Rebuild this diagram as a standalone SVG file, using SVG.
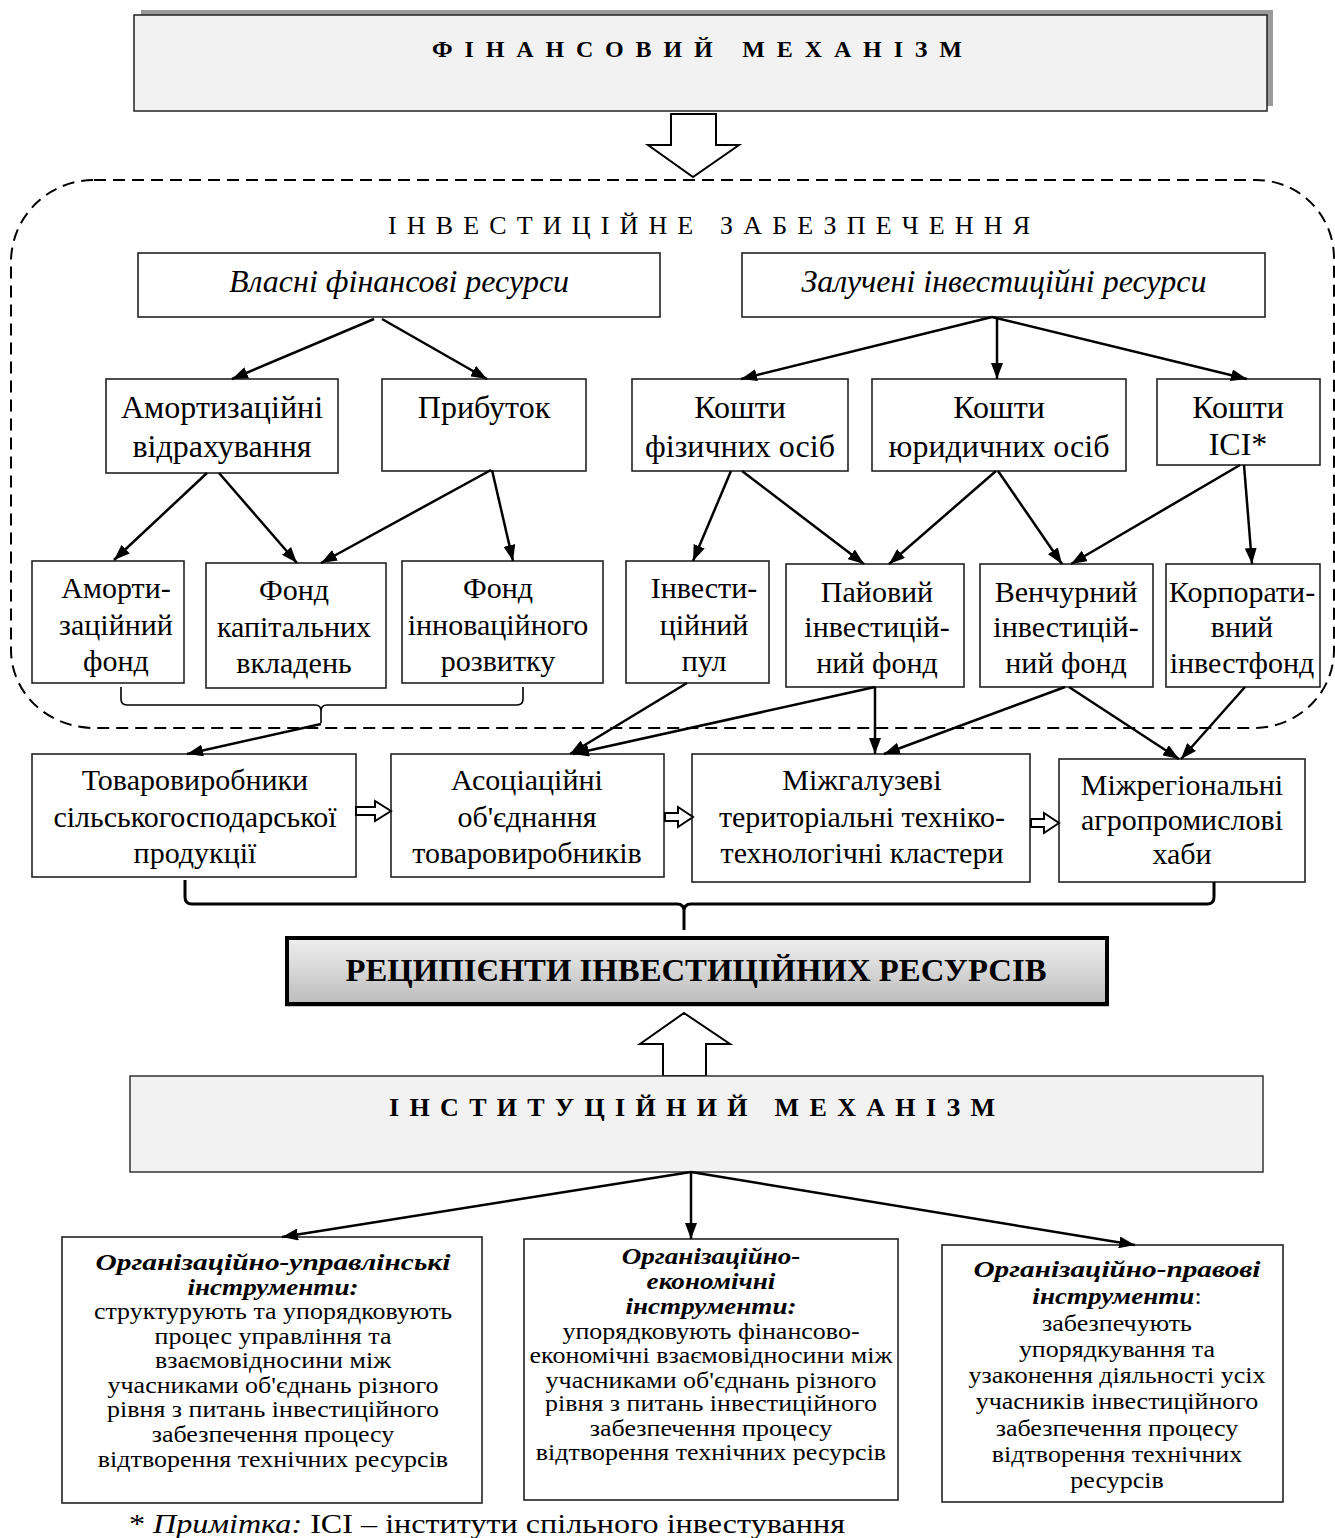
<svg xmlns="http://www.w3.org/2000/svg" width="1335" height="1538" viewBox="0 0 1335 1538">
<defs>
<marker id="ah" markerUnits="userSpaceOnUse" markerWidth="16" markerHeight="12" refX="16" refY="6" orient="auto">
<path d="M0,0 L16,6 L0,12 Z" fill="#000"/>
</marker>
<linearGradient id="grad" x1="0" y1="0" x2="0" y2="1">
<stop offset="0" stop-color="#efefef"/>
<stop offset="1" stop-color="#bcbcbc"/>
</linearGradient>
<style>
.box{fill:#fff;stroke:#222;stroke-width:1.6}
.t{font-family:"Liberation Serif","Times New Roman",serif;text-anchor:middle;fill:#000}
.f32{font-size:32px}
.f30{font-size:30px}
.s{font-size:23px}
.h{font-size:24px}
.i{font-style:italic}
.b{font-weight:bold}
.c{stroke:#000;stroke-width:2.5;fill:none;marker-end:url(#ah)}
.hollow{fill:#fff;stroke:#000;stroke-width:2}
.brace{fill:none;stroke:#000}
</style>
</defs>
<rect width="1335" height="1538" fill="#fff"/>

<g id="financial-mechanism">
<rect x="141" y="10" width="1132" height="96" fill="#9a9a9a"/>
<rect x="134" y="15" width="1133" height="96" fill="#f2f2f2" stroke="#222" stroke-width="1.5"/>
<text class="t b" x="697" y="57" style="font-size:24px" textLength="530" lengthAdjust="spacing">ФІНАНСОВИЙ МЕХАНІЗМ</text>
</g>

<g id="arrow-down">
<polygon class="hollow" points="671,114 716,114 716,145 739,145 693,177 648,145 671,145"/>
</g>

<g id="investment-support">
<path d="M94,180 H1256 A78,78 0 0 1 1334,258 V650 A80,78 0 0 1 1254,728 H94 A83,78 0 0 1 11,650 V262 A83,82 0 0 1 94,180 Z" fill="none" stroke="#000" stroke-width="2" stroke-dasharray="12 7"/>
<text class="t" x="709" y="234" style="font-size:26px" textLength="642" lengthAdjust="spacing">ІНВЕСТИЦІЙНЕ ЗАБЕЗПЕЧЕННЯ</text>
</g>

<g id="own-resources">
<rect class="box" x="138" y="253" width="522" height="64"/>
<text class="t f32 i" x="399" y="292">Власні фінансові ресурси</text>
</g>
<g id="attracted-resources">
<rect class="box" x="742" y="253" width="523" height="64"/>
<text class="t f32 i" x="1004" y="292">Залучені інвестиційні ресурси</text>
</g>

<g id="depreciation">
<rect class="box" x="106" y="379" width="232" height="94"/>
<text class="t f32" x="222" y="418">Амортизаційні<tspan x="222" dy="39">відрахування</tspan></text>
</g>
<g id="profit">
<rect class="box" x="382" y="379" width="204" height="92"/>
<text class="t f32" x="484" y="418">Прибуток</text>
</g>
<g id="individuals">
<rect class="box" x="632" y="379" width="216" height="92"/>
<text class="t f32" x="740" y="418">Кошти<tspan x="740" dy="39">фізичних осіб</tspan></text>
</g>
<g id="legal-entities">
<rect class="box" x="872" y="379" width="254" height="92"/>
<text class="t f32" x="999" y="418">Кошти<tspan x="999" dy="39">юридичних осіб</tspan></text>
</g>
<g id="ici">
<rect class="box" x="1157" y="379" width="163" height="86"/>
<text class="t f32" x="1238" y="418">Кошти<tspan x="1238" dy="37">ІСІ*</tspan></text>
</g>

<g id="depreciation-fund">
<rect class="box" x="32" y="561" width="152" height="122"/>
<text class="t f30" x="116" y="598">Аморти-<tspan x="116" dy="37">заційний</tspan><tspan x="116" dy="36">фонд</tspan></text>
</g>
<g id="capital-fund">
<rect class="box" x="206" y="563" width="180" height="125"/>
<text class="t f30" x="294" y="600">Фонд<tspan x="294" dy="37">капітальних</tspan><tspan x="294" dy="36">вкладень</tspan></text>
</g>
<g id="innovation-fund">
<rect class="box" x="402" y="561" width="201" height="122"/>
<text class="t f30" x="498" y="598">Фонд<tspan x="498" dy="37">інноваційного</tspan><tspan x="498" dy="36">розвитку</tspan></text>
</g>
<g id="investment-pool">
<rect class="box" x="626" y="561" width="143" height="122"/>
<text class="t f30" x="704" y="598">Інвести-<tspan x="704" dy="37">ційний</tspan><tspan x="704" dy="36">пул</tspan></text>
</g>
<g id="mutual-fund">
<rect class="box" x="786" y="564" width="178" height="123"/>
<text class="t f30" x="877" y="602">Пайовий<tspan x="877" dy="35">інвестицій-</tspan><tspan x="877" dy="36">ний фонд</tspan></text>
</g>
<g id="venture-fund">
<rect class="box" x="980" y="564" width="173" height="123"/>
<text class="t f30" x="1066" y="602">Венчурний<tspan x="1066" dy="35">інвестицій-</tspan><tspan x="1066" dy="36">ний фонд</tspan></text>
</g>
<g id="corporate-fund">
<rect class="box" x="1166" y="564" width="154" height="123"/>
<text class="t f30" x="1242" y="602">Корпорати-<tspan x="1242" dy="35">вний</tspan><tspan x="1242" dy="36">інвестфонд</tspan></text>
</g>

<g id="producers">
<rect class="box" x="32" y="754" width="324" height="123"/>
<text class="t f30" x="195" y="790">Товаровиробники<tspan x="195" dy="37">сільськогосподарської</tspan><tspan x="195" dy="36">продукції</tspan></text>
</g>
<g id="associations">
<rect class="box" x="391" y="754" width="273" height="123"/>
<text class="t f30" x="527" y="790">Асоціаційні<tspan x="527" dy="37">об'єднання</tspan><tspan x="527" dy="36">товаровиробників</tspan></text>
</g>
<g id="clusters">
<rect class="box" x="692" y="754" width="338" height="128"/>
<text class="t f30" x="862" y="790">Міжгалузеві<tspan x="862" dy="37">територіальні техніко-</tspan><tspan x="862" dy="36">технологічні кластери</tspan></text>
</g>
<g id="hubs">
<rect class="box" x="1059" y="759" width="246" height="123"/>
<text class="t f30" x="1182" y="795">Міжрегіональні<tspan x="1182" dy="35">агропромислові</tspan><tspan x="1182" dy="34">хаби</tspan></text>
</g>

<g id="recipients">
<rect x="285" y="941" width="824" height="66" fill="#c8c8c8"/>
<rect x="287" y="938" width="820" height="66" fill="url(#grad)" stroke="#000" stroke-width="4"/>
<text class="t b" x="696" y="981" style="font-size:31px" textLength="701" lengthAdjust="spacingAndGlyphs">РЕЦИПІЄНТИ  ІНВЕСТИЦІЙНИХ  РЕСУРСІВ</text>
</g>

<g id="arrow-up">
<polygon class="hollow" points="684,1013 730,1044 706,1044 706,1076 663,1076 663,1044 640,1044"/>
</g>

<g id="institutional-mechanism">
<rect x="130" y="1076" width="1133" height="96" fill="#f2f2f2" stroke="#333" stroke-width="1.5"/>
<text class="t b" x="692" y="1116" style="font-size:26px" textLength="606" lengthAdjust="spacing">ІНСТИТУЦІЙНИЙ МЕХАНІЗМ</text>
</g>

<g id="org-management">
<rect class="box" x="62" y="1237" width="420" height="266"/>
<g transform="matrix(1.13,0,0,1,-35.49,0)">
<text class="t s" x="273" y="1270"><tspan class="h b i" textLength="314" lengthAdjust="spacingAndGlyphs">Організаційно-управлінські</tspan><tspan class="h b i" x="273" dy="25">інструменти:</tspan><tspan x="273" dy="24">структурують та упорядковують</tspan><tspan x="273" dy="25">процес управління та</tspan><tspan x="273" dy="24">взаємовідносини між</tspan><tspan x="273" dy="25">учасниками об'єднань різного</tspan><tspan x="273" dy="24">рівня з питань інвестиційного</tspan><tspan x="273" dy="25">забезпечення процесу</tspan><tspan x="273" dy="25">відтворення технічних ресурсів</tspan></text>
</g>
</g>
<g id="org-economic">
<rect class="box" x="524" y="1239" width="374" height="261"/>
<g transform="matrix(1.13,0,0,1,-92.43,0)">
<text class="t s" x="711" y="1264"><tspan class="h b i">Організаційно-</tspan><tspan class="h b i" x="711" dy="25">економічні</tspan><tspan class="h b i" x="711" dy="25">інструменти:</tspan><tspan x="711" dy="25">упорядковують фінансово-</tspan><tspan x="711" dy="24">економічні взаємовідносини між</tspan><tspan x="711" dy="25">учасниками об'єднань різного</tspan><tspan x="711" dy="23">рівня з питань інвестиційного</tspan><tspan x="711" dy="25">забезпечення процесу</tspan><tspan x="711" dy="24">відтворення технічних ресурсів</tspan></text>
</g>
</g>
<g id="org-legal">
<rect class="box" x="942" y="1245" width="341" height="257"/>
<g transform="matrix(1.13,0,0,1,-145.21,0)">
<text class="t s" x="1117" y="1277"><tspan class="h b i" textLength="254" lengthAdjust="spacingAndGlyphs">Організаційно-правові</tspan><tspan x="1117" dy="27"><tspan class="h b i">інструменти</tspan>:</tspan><tspan x="1117" dy="27">забезпечують</tspan><tspan x="1117" dy="26">упорядкування та</tspan><tspan x="1117" dy="26">узаконення діяльності усіх</tspan><tspan x="1117" dy="26">учасників інвестиційного</tspan><tspan x="1117" dy="27">забезпечення процесу</tspan><tspan x="1117" dy="26">відтворення технічних</tspan><tspan x="1117" dy="26">ресурсів</tspan></text>
</g>
</g>

<g id="footnote">
<text class="t" x="129" y="1533" style="font-size:27px;text-anchor:start" textLength="716" lengthAdjust="spacingAndGlyphs">* <tspan class="i">Примітка:</tspan> ІСІ – інститути спільного інвестування</text>
</g>

<g id="connectors">
<line class="c" x1="374" y1="319" x2="232" y2="379"/>
<line class="c" x1="382" y1="319" x2="487" y2="379"/>
<line class="c" x1="992" y1="317" x2="741" y2="379"/>
<line class="c" x1="997" y1="318" x2="997" y2="379"/>
<line class="c" x1="992" y1="317" x2="1247" y2="379"/>
<line class="c" x1="207" y1="473" x2="114" y2="560"/>
<line class="c" x1="219" y1="473" x2="297" y2="563"/>
<line class="c" x1="491" y1="470" x2="321" y2="563"/>
<line class="c" x1="492" y1="470" x2="513" y2="561"/>
<line class="c" x1="731" y1="471" x2="693" y2="561"/>
<line class="c" x1="742" y1="471" x2="864" y2="564"/>
<line class="c" x1="996" y1="471" x2="889" y2="564"/>
<line class="c" x1="998" y1="471" x2="1062" y2="564"/>
<line class="c" x1="1240" y1="465" x2="1071" y2="564"/>
<line class="c" x1="1244" y1="465" x2="1252" y2="564"/>
<path class="brace" stroke-width="1.6" d="M121,687 V699 Q121,705 127,705 H315 Q321,705 321,711 V723 M321,711 Q321,705 327,705 H517 Q523,705 523,699 V687"/>
<line class="c" x1="321" y1="724" x2="187" y2="754"/>
<line class="c" x1="687" y1="683" x2="570" y2="754"/>
<line class="c" x1="875" y1="687" x2="573" y2="754"/>
<line class="c" x1="875" y1="687" x2="875" y2="754"/>
<line class="c" x1="1065" y1="687" x2="884" y2="754"/>
<line class="c" x1="1069" y1="687" x2="1179" y2="759"/>
<line class="c" x1="1245" y1="687" x2="1181" y2="759"/>
<polygon class="hollow" stroke-width="1.6" points="356,807 375,807 375,801 391,811 375,821 375,815 356,815"/>
<polygon class="hollow" stroke-width="1.6" points="665,813 678,813 678,807 693,817 678,827 678,821 665,821"/>
<polygon class="hollow" stroke-width="1.6" points="1031,819 1044,819 1044,813 1059,823 1044,833 1044,827 1031,827"/>
<path class="brace" stroke-width="3" d="M185,880 V897 Q185,904 192,904 H677 Q684,904 684,911 V930 M684,911 Q684,904 691,904 H1207 Q1214,904 1214,897 V882"/>
<line class="c" x1="691" y1="1172" x2="282" y2="1237"/>
<line class="c" x1="691" y1="1172" x2="691" y2="1239"/>
<line class="c" x1="691" y1="1172" x2="1135" y2="1245"/>
</g>
</svg>
